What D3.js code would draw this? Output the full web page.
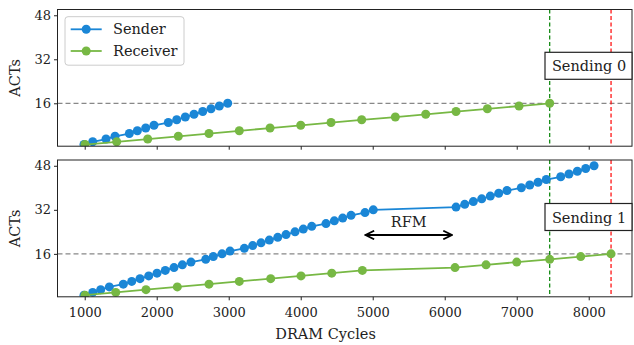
<!DOCTYPE html>
<html>
<head>
<meta charset="utf-8">
<script src="https://cdn.jsdelivr.net/npm/d3@7"></script>
<style>
body { margin: 0; background: #fff; }
text { font-family: "DejaVu Serif", serif; }
</style>
</head>
<body>
<div id="svg-container"></div>
<script>
// data (x = DRAM cycle, y = ACT count)
var sender0X = [990,1111,1296,1421,1620,1731,1847,1962,2161,2278,2397,2518,2639,2754,2870,2986];
var sender0Y = [1,2,3,4,5,6,7,8,9,10,11,12,13,14,15,16];
var receiver0X = [1004,1444,1875,2300,2726,3147,3574,4000,4421,4847,5314,5736,6157,6592,7032,7458];
var receiver0Y = [1,2,3,4,5,6,7,8,9,10,11,12,13,14,15,16];

var sender1X = [990,1111,1222,1342,1536,1653,1768,1889,2004,2119,2240,2356,2476,2681,2786,2907,3018,3217,3333,3449,3564,3681,3796,3921,4036,4153,
  4351,4467,4583,4699,4893,5008,6157,6278,6397,6514,6633,6750,6865,7064,7181,7296,7411,7611,7726,7842,7958,8074];
var sender1Y = d3.range(1, 49);
var receiver1X = [1004,1431,1851,2286,2726,3147,3583,4004,4431,4856,6143,6574,7000,7458,7889,8310];
var receiver1Y = [1,2,3,4,5,6,7,8,9,10,11,12,13,14,15,16];

var xTicks = [1000,2000,3000,4000,5000,6000,7000,8000];
var yTicks = [16,32,48];
var threshold = 16;
var greenLineX = 7458;
var redLineX = 8310;

var blue = "#1a86d6", green = "#77b844";
var fs = 14.5;

var svg = d3.select("#svg-container").append("svg").attr("width",634).attr("height",345);

var x = d3.scaleLinear().domain([622,8601]).range([57.5,632]);

function panel(top, bottom, sx, sy, rx, ry, label, id, showX) {
  var y = d3.scaleLinear().domain([0.4,50.1]).range([bottom, top]);
  var g = svg.append("g");
  g.append("clipPath").attr("id","clip"+id).append("rect")
    .attr("x",57.5).attr("y",top).attr("width",632-57.5).attr("height",bottom-top);
  var plot = g.append("g").attr("clip-path","url(#clip"+id+")");

  plot.append("line").attr("x1",57.5).attr("x2",632).attr("y1",y(threshold)).attr("y2",y(threshold))
    .attr("stroke","#888").attr("stroke-width",1.2).attr("stroke-dasharray","5,3");
  plot.append("line").attr("x1",x(greenLineX)).attr("x2",x(greenLineX)).attr("y1",top).attr("y2",bottom)
    .attr("stroke","green").attr("stroke-width",1.2).attr("stroke-dasharray","4,2.5");
  plot.append("line").attr("x1",x(redLineX)).attr("x2",x(redLineX)).attr("y1",top).attr("y2",bottom)
    .attr("stroke","red").attr("stroke-width",1.2).attr("stroke-dasharray","4,2.5");

  var series = [[sx, sy, blue], [rx, ry, green]];
  series.forEach(function(s) {
    var pts = s[0].map(function(v,i){ return [v, s[1][i]]; });
    plot.append("path").datum(pts)
      .attr("d", d3.line().x(function(d){return x(d[0]);}).y(function(d){return y(d[1]);}))
      .attr("fill","none").attr("stroke",s[2]).attr("stroke-width",1.8);
    plot.selectAll(null).data(pts).enter().append("circle")
      .attr("cx",function(d){return x(d[0]);}).attr("cy",function(d){return y(d[1]);})
      .attr("r",4.5).attr("fill",s[2]);
  });

  // axes
  var xa = g.append("g").attr("transform","translate(0,"+bottom+")")
    .call(d3.axisBottom(x).tickValues(xTicks).tickSize(3.5).tickFormat(showX ? d3.format("d") : ""));
  var ya = g.append("g").attr("transform","translate(57.5,0)")
    .call(d3.axisLeft(y).tickValues(yTicks).tickSize(3.5));
  [xa, ya].forEach(function(a){
    a.select(".domain").remove();
    a.selectAll("text").attr("font-family","DejaVu Serif").attr("font-size",13).attr("fill","#222");
    a.selectAll("line").attr("stroke","#222");
  });
  xa.selectAll("text").attr("dy","1.05em");
  g.append("rect").attr("x",57.5).attr("y",top).attr("width",632-57.5).attr("height",bottom-top)
    .attr("fill","none").attr("stroke","#222").attr("stroke-width",1);

  g.append("text").attr("transform","translate(20,"+((top+bottom)/2)+") rotate(-90)")
    .attr("text-anchor","middle").attr("font-size",fs).attr("fill","#222").text("ACTs");

  // Sending label box
  var bx = 545, by = top + (id === 0 ? 42.8 : 43.5);
  g.append("rect").attr("x",bx).attr("y",by).attr("width",87).attr("height",27)
    .attr("fill","#fff").attr("stroke","#222").attr("stroke-width",1.2);
  g.append("text").attr("x",bx+44).attr("y",by+19).attr("text-anchor","middle")
    .attr("font-size",fs).attr("fill","#222").text(label);
  return y;
}

panel(9.5, 146.2, sender0X, sender0Y, receiver0X, receiver0Y, "Sending 0", 0, false);
var y1 = panel(160, 296.8, sender1X, sender1Y, receiver1X, receiver1Y, "Sending 1", 1, true);

// RFM annotation
svg.append("defs").append("marker").attr("id","arr").attr("viewBox","0 0 10 10")
  .attr("refX",9).attr("refY",5).attr("markerWidth",6).attr("markerHeight",6).attr("orient","auto-start-reverse")
  .append("path").attr("d","M1,1 L9,5 L1,9").attr("fill","none").attr("stroke","#000").attr("stroke-width",1.6);
svg.append("line").attr("x1",x(4900)).attr("x2",x(6100)).attr("y1",235).attr("y2",235)
  .attr("stroke","#000").attr("stroke-width",1.8)
  .attr("marker-start","url(#arr)").attr("marker-end","url(#arr)");
svg.append("text").attr("x",x(5500)).attr("y",226.5).attr("text-anchor","middle")
  .attr("font-size",fs).attr("fill","#222").text("RFM");

svg.append("text").attr("x",x(4345)).attr("y",339).attr("text-anchor","middle")
  .attr("font-size",fs).attr("fill","#222").text("DRAM Cycles");

// legend
var lg = svg.append("g");
lg.append("rect").attr("x",65).attr("y",16.7).attr("width",119).attr("height",48.5).attr("rx",3)
  .attr("fill","#fff").attr("fill-opacity",0.85).attr("stroke","#ccc");
[["Sender",blue,29.3],["Receiver",green,51]].forEach(function(e){
  lg.append("line").attr("x1",70.7).attr("x2",101.7).attr("y1",e[2]).attr("y2",e[2])
    .attr("stroke",e[1]).attr("stroke-width",1.8);
  lg.append("circle").attr("cx",86.2).attr("cy",e[2]).attr("r",4.5).attr("fill",e[1]);
  lg.append("text").attr("x",113).attr("y",e[2]+5).attr("font-size",fs).attr("fill","#222").text(e[0]);
});
</script>
</body>
</html>
